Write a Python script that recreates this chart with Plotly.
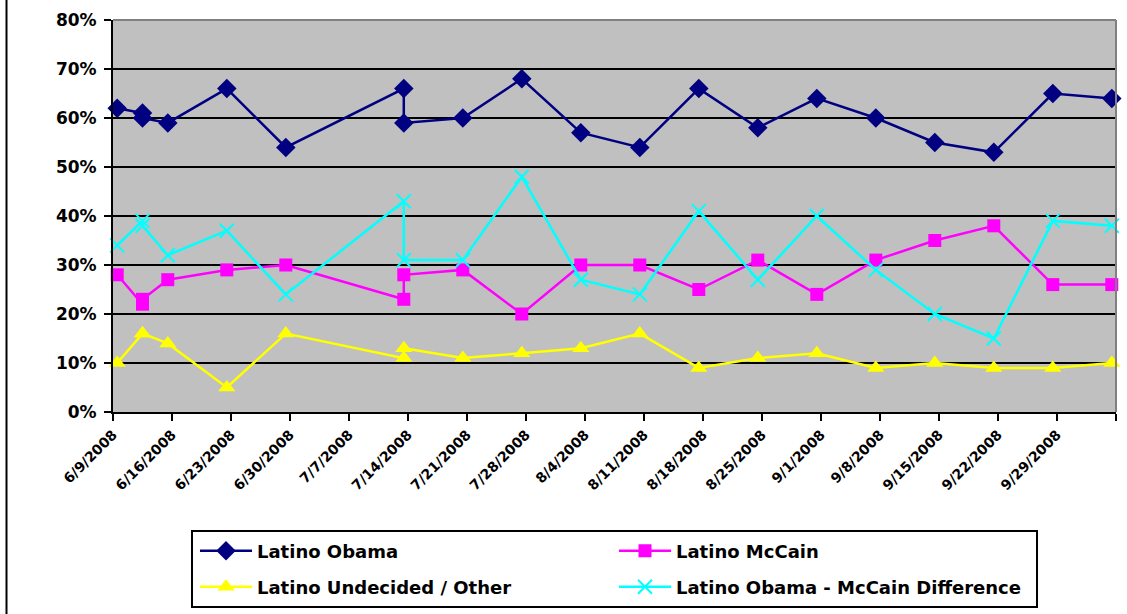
import plotly.graph_objects as go
import pandas as pd

# ---- data ----
dates = ["2008-06-09", "2008-06-12", "2008-06-12", "2008-06-15", "2008-06-22",
         "2008-06-29", "2008-07-13", "2008-07-13", "2008-07-20", "2008-07-27",
         "2008-08-03", "2008-08-10", "2008-08-17", "2008-08-24", "2008-08-31",
         "2008-09-07", "2008-09-14", "2008-09-21", "2008-09-28", "2008-10-05"]
obama = [62, 61, 60, 59, 66, 54, 66, 59, 60, 68, 57, 54, 66, 58, 64, 60, 55, 53, 65, 64]
mccain = [28, 22, 23, 27, 29, 30, 23, 28, 29, 20, 30, 30, 25, 31, 24, 31, 35, 38, 26, 26]
undecided = [10, 16, 16, 14, 5, 16, 11, 13, 11, 12, 13, 16, 9, 11, 12, 9, 10, 9, 9, 10]
difference = [34, 39, 38, 32, 37, 24, 43, 31, 31, 48, 27, 24, 41, 27, 40, 29, 20, 15, 39, 38]

tick_labels = ["6/9/2008", "6/16/2008", "6/23/2008", "6/30/2008", "7/7/2008",
               "7/14/2008", "7/21/2008", "7/28/2008", "8/4/2008", "8/11/2008",
               "8/18/2008", "8/25/2008", "9/1/2008", "9/8/2008", "9/15/2008",
               "9/22/2008", "9/29/2008", ""]
series_names = ["Latino Obama", "Latino McCain", "Latino Undecided / Other",
                "Latino Obama - McCain Difference"]

# Excel date axis: points sit in the middle of their day slot
x = pd.to_datetime(dates) + pd.Timedelta(hours=12)
tick_dates = pd.date_range("2008-06-09", periods=len(tick_labels), freq="7D")

FONT = "DejaVu Sans, Arial, sans-serif"

fig = go.Figure()
specs = [
    (obama, "#000080", "diamond", 15, "legend", 2.5),
    (mccain, "#FF00FF", "square", 13, "legend2", 2.5),
    (undecided, "#FFFF00", "triangle-up", 15, "legend3", 2.5),
    (difference, "#00FFFF", "x-thin", 14, "legend4", 2.5),
]
for name, (vals, col, sym, size, leg, lw) in zip(series_names, specs):
    marker = dict(symbol=sym, size=size, color=col)
    if sym == "x-thin":
        marker["line"] = dict(color=col, width=2)
    fig.add_trace(go.Scatter(
        x=x, y=vals, name=name, mode="lines+markers",
        line=dict(color=col, width=lw), marker=marker, legend=leg,
        cliponaxis=False,
    ))

PLOT_L, PLOT_R, PLOT_T, PLOT_B = 113, 11, 20, 202
W, H = 1127, 614
pw = W - PLOT_L - PLOT_R
ph = H - PLOT_T - PLOT_B


def px_x(p):
    return (p - PLOT_L) / pw


def px_y(p):
    return (H - PLOT_B - p) / ph


leg_common = dict(bgcolor="rgba(0,0,0,0)", borderwidth=0, xanchor="left",
                  yanchor="middle", itemwidth=52,
                  font=dict(family=FONT, size=18, color="black", weight="bold"))

fig.update_layout(
    width=W, height=H,
    margin=dict(l=PLOT_L, r=PLOT_R, t=PLOT_T, b=PLOT_B, autoexpand=False),
    paper_bgcolor="white", plot_bgcolor="#C0C0C0",
    font=dict(family=FONT, color="black", weight="bold"),
    legend=dict(x=px_x(195), y=px_y(551), **leg_common),
    legend2=dict(x=px_x(614), y=px_y(551), **leg_common),
    legend3=dict(x=px_x(195), y=px_y(587), **leg_common),
    legend4=dict(x=px_x(614), y=px_y(587), **leg_common),
    xaxis=dict(
        type="date", range=[tick_dates[0], tick_dates[-1]],
        tickmode="array", tickvals=tick_dates, ticktext=tick_labels,
        tickangle=-45, tickfont=dict(family=FONT, size=14, weight="bold"),
        ticks="outside", ticklen=7, tickwidth=2, tickcolor="black",
        showline=True, linecolor="black", linewidth=2, showgrid=False,
        zeroline=False, automargin=False,
    ),
    yaxis=dict(
        range=[0, 80], dtick=10, ticksuffix="%",
        tickfont=dict(family=FONT, size=17, weight="bold"),
        ticks="outside", ticklen=7, tickwidth=2, tickcolor="black",
        showline=True, linecolor="black", linewidth=2,
        showgrid=True, gridcolor="black", gridwidth=2, zeroline=False,
        ticklabelstandoff=4, automargin=False,
    ),
    shapes=[
        dict(type="line", xref="paper", yref="paper", x0=0, x1=1, y0=1, y1=1,
             line=dict(color="#808080", width=2)),
        dict(type="line", xref="paper", yref="paper", x0=1, x1=1, y0=0, y1=1,
             line=dict(color="#808080", width=2)),
        dict(type="rect", xref="paper", yref="paper",
             x0=px_x(192), x1=px_x(1037), y0=px_y(607), y1=px_y(531),
             line=dict(color="black", width=2)),
        dict(type="line", xref="paper", yref="paper",
             x0=px_x(6.5), x1=px_x(6.5), y0=px_y(700), y1=px_y(-50),
             line=dict(color="black", width=2)),
    ],
    showlegend=True,
)

fig.write_html("out.html")
